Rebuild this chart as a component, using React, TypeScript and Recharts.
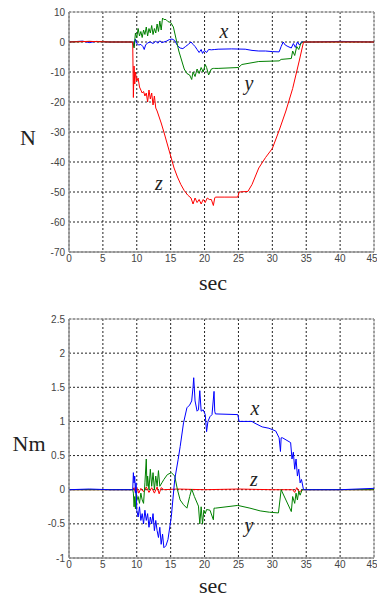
import React from "react";
import { LineChart, Line, XAxis, YAxis, CartesianGrid, ReferenceArea } from "recharts";

// time ticks shared by both plots
const secTicks = [0, 5, 10, 15, 20, 25, 30, 35, 40, 45];
const forceTicks = [10, 0, -10, -20, -30, -40, -50, -60, -70];
const torqueTicks = [2.5, 2, 1.5, 1, 0.5, 0, -0.5, -1];

// force x (blue)
const fxT = [0, 2, 3, 4, 6, 9.4, 9.6, 9.8, 10, 10.3, 10.6, 10.9, 11.1, 11.3, 11.6, 12, 12.4, 12.8, 13.1, 13.4, 13.7, 14, 14.4, 14.8, 15.2, 15.6, 16, 16.4, 16.8, 17.2, 17.6, 18, 18.3, 18.6, 18.9, 19.2, 19.5, 19.7, 20, 20.3, 20.6, 21, 21.5, 22, 24, 26, 27, 28, 29, 30, 31, 31.3, 31.6, 31.9, 32.3, 32.8, 33.1, 33.4, 33.7, 34, 34.3, 34.6, 36, 40, 45];
const fxV = [0, 0.3, -0.2, 0.2, 0, 0, -1.5, 1, -0.5, -1, -0.8, -1.5, -2.5, -1, -0.3, 0, -0.5, 0.3, -0.4, 0.4, -0.2, 0, 0.3, 0.8, 1.0, 0.5, -1.2, -2, -2.2, -1.5, -0.8, 0, -0.8, -1.5, -2.5, -3.5, -2.5, -3.8, -2.8, -3.5, -2.5, -2.6, -2.5, -2.4, -2.3, -2.4, -2.8, -3, -3, -3.2, -3.3, -1.5, 0, -1, -1.5, -2, -0.5, -1.8, 0, -1, 0, 0, 0, 0.2, 0];

// force y (green)
const fyT = [0, 3, 6, 9.4, 9.6, 9.8, 10, 10.2, 10.4, 10.6, 10.8, 11, 11.2, 11.4, 11.6, 11.8, 12, 12.2, 12.4, 12.6, 12.8, 13, 13.2, 13.4, 13.6, 13.8, 14, 14.3, 14.6, 15, 15.4, 15.8, 16.2, 16.6, 17, 17.4, 17.8, 18.1, 18.3, 18.6, 18.9, 19.2, 19.5, 19.8, 20.1, 20.3, 20.6, 21, 21.3, 21.5, 22, 25, 25.5, 28, 31, 31.3, 32.8, 33, 33.3, 33.6, 33.9, 34.2, 34.5, 38, 45];
const fyV = [0, 0.2, 0, 0, -2, 3, 1.5, 4.5, 2, 3.5, 1.5, 4, 2.5, 5, 2, 4.5, 3, 5.5, 2.5, 4.5, 3, 6, 3.5, 7, 4, 8, 7.5, 7.5, 6.8, 6.5, 5, 1, -3, -6, -9, -10.5, -11, -12.5, -10, -11.5, -9, -10.5, -8.5, -10, -7.5, -8.5, -11, -9, -8.8, -8.8, -8.8, -8.5, -7.5, -6.5, -6.3, -5.8, -5.5, -3, -4.5, -1.5, -2.5, -0.5, 0, 0, 0];

// force z (red)
const fzT = [0, 3, 6, 9.4, 9.5, 9.6, 9.7, 9.8, 10, 10.2, 10.4, 10.6, 10.8, 11, 11.2, 11.4, 11.6, 11.8, 12, 12.2, 12.4, 12.6, 12.8, 13, 13.3, 13.6, 14, 14.5, 15, 15.5, 16, 16.5, 17, 17.5, 18, 18.3, 18.6, 18.9, 19.2, 19.5, 19.8, 20.1, 20.4, 20.7, 21, 21.3, 21.5, 21.6, 23, 24.9, 25.1, 26.4, 27, 28, 29, 30, 31, 32, 33, 34, 34.6, 40, 45];
const fzV = [0, 0.2, 0, 0, -18.5, -8, -14, -10, -13, -12, -15, -16, -17, -16.5, -18, -17, -20, -16, -19, -17, -21, -18, -22, -23, -25, -27, -30, -34, -38, -42, -45, -47.5, -49.5, -51, -52, -54, -52, -53.5, -52.5, -54, -52.5, -53.5, -52, -52.5, -52.5, -54.5, -52, -51.7, -51.7, -51.7, -50, -49.8, -47.5, -42, -38.5, -35.5, -29.5, -23, -15.5, -6, 0, 0, 0];

// torque x (blue)
const txT = [0, 3, 6, 9.4, 9.5, 9.6, 9.7, 9.8, 9.9, 10, 10.2, 10.4, 10.6, 10.8, 11, 11.2, 11.4, 11.6, 11.8, 12, 12.2, 12.4, 12.6, 12.8, 13, 13.2, 13.4, 13.6, 13.8, 14, 14.3, 14.6, 15.1, 15.6, 16.1, 16.4, 16.9, 17.4, 17.8, 18.1, 18.3, 18.4, 18.6, 18.9, 19.1, 19.3, 19.5, 19.8, 20.1, 20.3, 20.5, 20.8, 21.1, 21.4, 21.5, 21.6, 24.9, 25.1, 27, 27.3, 28.5, 29.5, 30.5, 31, 31.2, 31.3, 31.5, 32.7, 32.9, 33.1, 33.3, 33.5, 33.7, 33.9, 34.1, 34.3, 34.6, 40, 45];
const txV = [0, 0.01, 0, 0, 0.25, 0.1, 0.2, -0.05, 0.1, -0.3, -0.4, -0.25, -0.45, -0.35, -0.5, -0.3, -0.45, -0.35, -0.55, -0.4, -0.5, -0.35, -0.6, -0.45, -0.6, -0.7, -0.55, -0.8, -0.65, -0.85, -0.82, -0.73, -0.39, 0.15, 0.44, 0.63, 0.98, 1.2, 1.24, 1.3, 1.5, 1.64, 1.3, 1.15, 1.17, 1.45, 1.15, 1.17, 1.1, 0.85, 1.0, 1.07, 1.1, 1.44, 1.15, 1.11, 1.1, 1.0, 1.0, 0.98, 0.92, 0.9, 0.86, 0.76, 0.56, 0.76, 0.76, 0.69, 0.45, 0.55, 0.3, 0.45, 0.2, 0.3, 0.1, 0.15, 0, 0, 0.02];

// torque y (green)
const tyT = [0, 3, 6, 9.4, 9.5, 9.6, 9.7, 9.8, 9.9, 10, 10.2, 10.4, 10.6, 10.8, 11, 11.2, 11.4, 11.5, 11.6, 11.8, 12, 12.2, 12.4, 12.6, 12.8, 13, 13.2, 13.4, 13.7, 14, 14.5, 15.1, 15.6, 16, 16.4, 16.9, 17.4, 17.8, 18.1, 18.5, 19.1, 19.3, 19.5, 19.7, 19.9, 20.1, 20.3, 20.8, 21.3, 21.4, 21.6, 24.9, 26.7, 28.2, 29.6, 30.9, 31.3, 32.8, 33, 33.3, 33.5, 33.7, 33.9, 34.1, 34.4, 34.6, 40, 45];
const tyV = [0, 0, 0, 0, -0.05, -0.25, -0.1, -0.28, -0.05, -0.15, -0.1, -0.2, -0.05, -0.15, -0.2, 0.1, 0.45, 0.05, 0.2, 0.0, 0.3, 0.05, 0.25, 0.0, 0.2, 0.05, 0.28, 0.05, 0.1, 0.15, 0.22, 0.25, 0.2, 0.0, -0.15, -0.22, -0.27, -0.1, 0.01, -0.1, -0.24, -0.5, -0.25, -0.5, -0.3, -0.35, -0.29, -0.3, -0.44, -0.27, -0.27, -0.23, -0.27, -0.31, -0.33, -0.34, 0.0, -0.32, -0.1, -0.2, -0.05, -0.15, -0.02, -0.08, 0, 0, 0, 0];

// torque z (red)
const tzT = [0, 3, 6, 9.4, 9.6, 9.8, 10, 10.3, 10.6, 11, 11.4, 11.8, 12.2, 12.6, 13, 13.3, 13.6, 14, 16, 20, 25, 30, 33, 33.3, 33.6, 34, 34.5, 40, 45];
const tzV = [0, 0, 0, 0, 0.03, -0.04, 0.03, -0.05, 0.02, -0.03, 0.04, -0.04, 0.03, -0.05, 0.04, -0.06, 0.03, 0, 0.01, 0, 0.01, 0, 0, -0.04, 0.03, -0.03, 0, 0, 0];

const zip = (t: number[], v: number[]) => t.map((x, i) => ({ t: x, v: v[i] }));

const tickStyle = { fontSize: 10, fill: "#444", fontFamily: "Liberation Sans, Arial, sans-serif" };
const serif = "Liberation Serif, 'Times New Roman', serif";

function Txt({ x, y, size, italic, children }: { x: number; y: number; size: number; italic?: boolean; children: React.ReactNode }) {
  return (
    <div
      style={{
        position: "absolute",
        left: x,
        top: y,
        transform: "translate(-50%, -50%)",
        fontFamily: serif,
        fontSize: size,
        fontStyle: italic ? "italic" : "normal",
        color: "#222",
        lineHeight: 1,
        whiteSpace: "nowrap",
      }}
    >
      {children}
    </div>
  );
}

function Plot({ top, height, margin, domain, ticks, series }: any) {
  return (
    <div style={{ position: "absolute", left: 0, top }}>
      <LineChart width={377} height={height} margin={margin}>
        <CartesianGrid stroke="#222" strokeDasharray="2 2" />
        <XAxis
          type="number"
          dataKey="t"
          domain={[0, 45]}
          ticks={secTicks}
          allowDataOverflow
          tickLine={false}
          tickSize={2}
          tickMargin={1}
          axisLine={{ stroke: "#888" }}
          tick={tickStyle}
          height={20}
        />
        <YAxis
          type="number"
          dataKey="v"
          domain={domain}
          ticks={ticks}
          allowDataOverflow
          interval={0}
          tickLine={false}
          tickSize={2}
          tickMargin={2}
          axisLine={{ stroke: "#888" }}
          tick={tickStyle}
          width={30}
        />
        <ReferenceArea x1={0} x2={45} y1={domain[0]} y2={domain[1]} fill="none" stroke="#aaa" />
        {series.map((s: any) => (
          <Line
            key={s.name}
            data={s.data}
            dataKey="v"
            type="linear"
            stroke={s.color}
            strokeWidth={1}
            dot={false}
            isAnimationActive={false}
          />
        ))}
      </LineChart>
    </div>
  );
}

export default function App() {
  const forceSeries = [
    { name: "x", color: "#0000ff", data: zip(fxT, fxV) },
    { name: "y", color: "#008000", data: zip(fyT, fyV) },
    { name: "z", color: "#ff0000", data: zip(fzT, fzV) },
  ];
  const torqueSeries = [
    { name: "z", color: "#ff0000", data: zip(tzT, tzV) },
    { name: "y", color: "#008000", data: zip(tyT, tyV) },
    { name: "x", color: "#0000ff", data: zip(txT, txV) },
  ];
  return (
    <div style={{ position: "absolute", left: 0, top: 0, width: 377, height: 601, background: "#fff" }}>
      <Plot
        top={0}
        height={300}
        margin={{ top: 12, right: 3, bottom: 28, left: 39 }}
        domain={[-70, 10]}
        ticks={forceTicks}
        series={forceSeries}
      />
      <Plot
        top={300}
        height={301}
        margin={{ top: 19, right: 3, bottom: 23, left: 39 }}
        domain={[-1, 2.5]}
        ticks={torqueTicks}
        series={torqueSeries}
      />
      <Txt x={28} y={138} size={22}>N</Txt>
      <Txt x={213} y={283} size={22}>sec</Txt>
      <Txt x={29} y={444} size={22}>Nm</Txt>
      <Txt x={213} y={586} size={22}>sec</Txt>
      <Txt x={224} y={31} size={20} italic>x</Txt>
      <Txt x={249} y={83} size={20} italic>y</Txt>
      <Txt x={159} y={183} size={20} italic>z</Txt>
      <Txt x={255} y={408} size={20} italic>x</Txt>
      <Txt x={254} y={479} size={20} italic>z</Txt>
      <Txt x={249} y={525} size={20} italic>y</Txt>
    </div>
  );
}
